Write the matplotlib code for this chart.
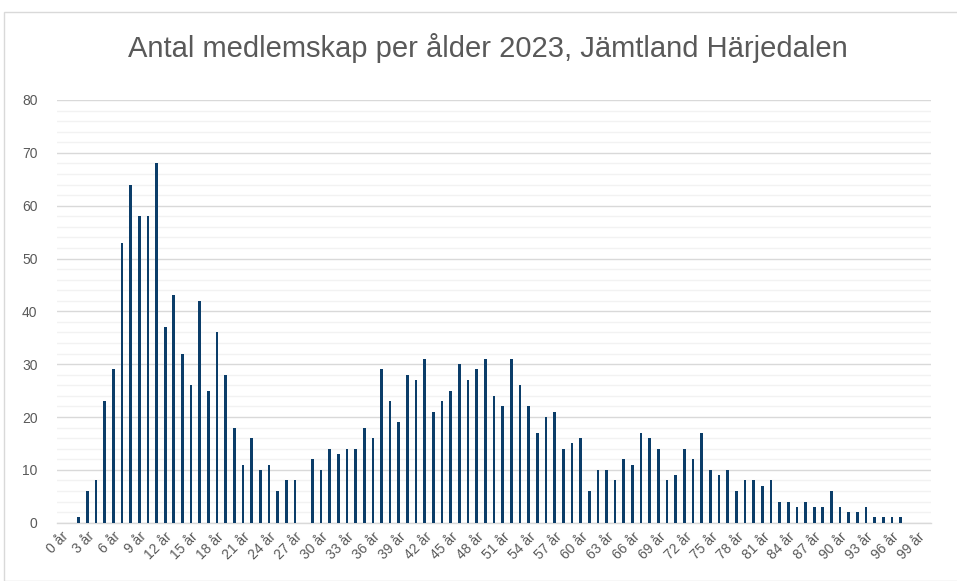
import matplotlib.pyplot as plt
from matplotlib.patches import Rectangle
import numpy as np

plt.rcParams['font.family'] = ['Liberation Sans', 'DejaVu Sans']

# ages 0..100, one category per age
ages = list(range(0, 101))
counts = [0, 0, 1, 6, 8, 23, 29, 53, 64, 58,
          58, 68, 37, 43, 32, 26, 42, 25, 36, 28,
          18, 11, 16, 10, 11, 6, 8, 8, 0, 12,
          10, 14, 13, 14, 14, 18, 16, 29, 23, 19,
          28, 27, 31, 21, 23, 25, 30, 27, 29, 31,
          24, 22, 31, 26, 22, 17, 20, 21, 14, 15,
          16, 6, 10, 10, 8, 12, 11, 17, 16, 14,
          8, 9, 14, 12, 17, 10, 9, 10, 6, 8,
          8, 7, 8, 4, 4, 3, 4, 3, 3, 6,
          3, 2, 2, 3, 1, 1, 1, 1, 0, 0,
          0]
labels = [f"{a} år" for a in ages]

fig = plt.figure(figsize=(9.57, 5.81), dpi=100)
fig.patches.append(Rectangle((4 / 957, 0), 1, 1 - 12 / 581, transform=fig.transFigure,
                             fill=False, edgecolor='#d9d9d9', linewidth=1))
ax = fig.add_axes([57 / 957, 1 - 522.7 / 581, (931 - 57) / 957, (522.7 - 100) / 581])

x = np.arange(len(ages))
ax.bar(x, counts, width=0.31, color='#0b3d69', zorder=3)

ax.set_xlim(-0.5, len(ages) - 0.5)
ax.set_ylim(0, 80)
ax.set_yticks(range(0, 81, 10))
ax.set_yticks(range(0, 81, 2), minor=True)
ax.grid(axis='y', which='major', color='#d9d9d9', linewidth=1, zorder=0)
ax.grid(axis='y', which='minor', color='#f2f2f2', linewidth=1, zorder=0)

ax.set_xticks(x[::3])
ax.set_xticklabels(labels[::3], rotation=45, ha='right', rotation_mode='anchor')
ax.tick_params(axis='both', which='both', length=0, labelsize=10, colors='#595959')
ax.tick_params(axis='y', pad=14)
ax.tick_params(axis='x', pad=5)

for s in ['top', 'right', 'left']:
    ax.spines[s].set_visible(False)
ax.spines['bottom'].set_color('#d9d9d9')
ax.spines['bottom'].set_linewidth(1)

fig.text(0.51, 1 - 48 / 581, "Antal medlemskap per ålder 2023, Jämtland Härjedalen",
         ha='center', va='center', fontsize=21, color='#595959')

fig.savefig('out.png', dpi=100)
